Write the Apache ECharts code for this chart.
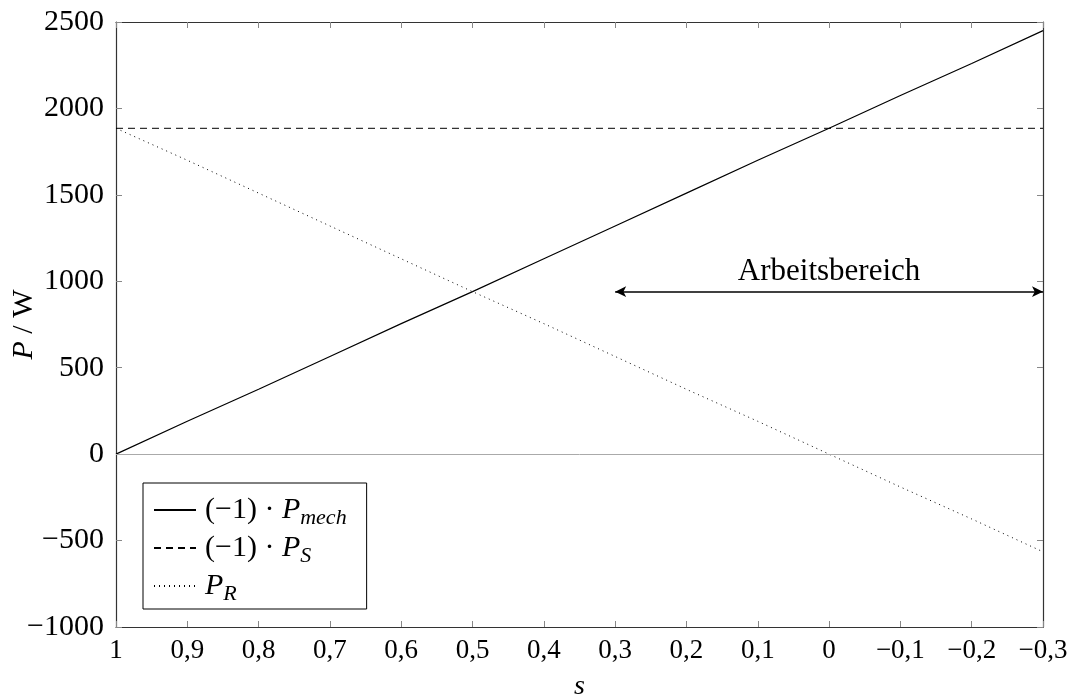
<!DOCTYPE html>
<html>
<head>
<meta charset="utf-8">
<script src="https://cdn.jsdelivr.net/npm/echarts@6/dist/echarts.min.js"></script>
<style>
  html, body { margin: 0; padding: 0; background: #fff; }
  #chart { width: 1080px; height: 695px; }
</style>
</head>
<body>
<div id="chart"></div>
<script>
// slip values (x axis runs from 1 down to -0.3)
const slip = [1, 0.9, 0.8, 0.7, 0.6, 0.5, 0.4, 0.3, 0.2, 0.1, 0, -0.1, -0.2, -0.3];
// (-1) * P_mech in W
const pMech = [0, 190, 375, 565, 755, 940, 1130, 1320, 1510, 1700, 1885, 2075, 2260, 2450];
// (-1) * P_S in W
const pS = [1885, 1885, 1885, 1885, 1885, 1885, 1885, 1885, 1885, 1885, 1885, 1885, 1885, 1885];
// P_R in W
const pR = [1885, 1700, 1510, 1320, 1130, 940, 755, 565, 375, 190, 0, -190, -375, -565];
// working range arrow
const rangeFrom = 0.3;
const rangeTo = -0.3;
const rangeLevel = 940;
const rangeLabel = "Arbeitsbereich";

const serif = "Liberation Serif";
const frameColor = "#333";
const tickColor = "#888";

let chartDom = document.getElementById("chart");
let myChart = echarts.init(chartDom);

const pair = (ys) => slip.map((s, i) => [s, ys[i]]);

const fmtX = (v) => {
  let t = (Math.round(v * 10) / 10).toFixed(1);
  if (t === "-0.0") t = "0.0";
  t = t.replace(/\.0$/, "").replace(".", ",").replace("-", "\u2212");
  return t;
};
const fmtY = (v) => String(v).replace("-", "\u2212");

const legendText = {
  mech: "{sp|}{n|(\u22121) \u00b7 }{i|P}{sub|mech}",
  S: "{sp|}{n|(\u22121) \u00b7 }{i|P}{sub|S}",
  R: "{sp|}{i|P}{sub|R}",
};

const xBase = {
  type: "value",
  inverse: true,
  min: -0.3,
  max: 1,
  interval: 0.1,
  splitLine: { show: false },
  axisLine: { onZero: false, lineStyle: { color: frameColor, width: 1.2 } },
  axisTick: { inside: true, length: 6, lineStyle: { color: tickColor } },
};
const yBase = {
  type: "value",
  min: -1000,
  max: 2500,
  interval: 500,
  splitLine: { show: false },
  axisLine: { onZero: false, lineStyle: { color: frameColor, width: 1.2 } },
  axisTick: { inside: true, length: 6, lineStyle: { color: tickColor } },
};

let option = {
  animation: false,
  backgroundColor: "#fff",
  grid: { left: 116, right: 37, top: 22, bottom: 68, outerBoundsMode: "none", containLabel: false },
  legend: {
    orient: "vertical",
    left: 143,
    top: 483,
    itemWidth: 42,
    itemHeight: 10,
    itemGap: 4,
    padding: [12, 20, 4, 10],
    borderColor: "#000",
    borderWidth: 1,
    backgroundColor: "#fff",
    itemStyle: { opacity: 0 },
    data: ["mech", "S", "R"],
    formatter: (name) => legendText[name],
    textStyle: {
      rich: {
        sp: { width: 4 },
        n: { fontFamily: serif, fontSize: 30, color: "#000", height: 32 },
        i: { fontFamily: serif, fontSize: 30, fontStyle: "italic", color: "#000", height: 32 },
        sub: { fontFamily: serif, fontSize: 22, fontStyle: "italic", color: "#000", padding: [16, 0, 0, 0] },
      },
    },
  },
  xAxis: [
    Object.assign({}, xBase, {
      position: "bottom",
      name: "s",
      nameLocation: "middle",
      nameGap: 46,
      nameMoveOverlap: false,
      nameTextStyle: { fontFamily: serif, fontSize: 28, fontStyle: "italic", color: "#000" },
      axisLabel: { fontFamily: serif, fontSize: 27, color: "#000", margin: 10, formatter: fmtX },
    }),
    Object.assign({}, xBase, { position: "top", axisLabel: { show: false } }),
  ],
  yAxis: [
    Object.assign({}, yBase, {
      position: "left",
      name: "{i|P} / W",
      nameLocation: "middle",
      nameGap: 77,
      nameMoveOverlap: false,
      nameTextStyle: {
        fontFamily: serif,
        fontSize: 30,
        color: "#000",
        rich: { i: { fontFamily: serif, fontSize: 30, fontStyle: "italic", color: "#000" } },
      },
      axisLabel: { fontFamily: serif, fontSize: 30, color: "#000", margin: 12, formatter: fmtY },
    }),
    Object.assign({}, yBase, { position: "right", axisLabel: { show: false } }),
  ],
  series: [
    {
      name: "mech",
      type: "line",
      symbol: "none",
      data: pair(pMech),
      lineStyle: { color: "#000", width: 1.2, type: "solid" },
      itemStyle: { color: "#000" },
      z: 3,
      markLine: {
        silent: true,
        symbol: "none",
        label: { show: false },
        lineStyle: { color: "#aaa", width: 1, type: "solid" },
        data: [{ yAxis: 0 }],
      },
    },
    {
      name: "S",
      type: "line",
      symbol: "none",
      data: pair(pS),
      lineStyle: { color: "#000", width: 1, type: [7, 5] },
      itemStyle: { color: "#000" },
      z: 3,
    },
    {
      name: "R",
      type: "line",
      symbol: "none",
      data: pair(pR),
      lineStyle: { color: "#000", width: 1, type: [1, 4] },
      itemStyle: { color: "#000" },
      z: 3,
      markLine: {
        silent: true,
        symbol: ["arrow", "arrow"],
        symbolSize: [8, 11],
        lineStyle: { color: "#000", width: 1.5, type: "solid" },
        label: {
          show: true,
          position: "middle",
          formatter: rangeLabel,
          fontFamily: serif,
          fontSize: 31,
          color: "#000",
          distance: 4,
        },
        data: [[{ coord: [rangeFrom, rangeLevel] }, { coord: [rangeTo, rangeLevel] }]],
      },
    },
  ],
};

option && myChart.setOption(option);
</script>
</body>
</html>
